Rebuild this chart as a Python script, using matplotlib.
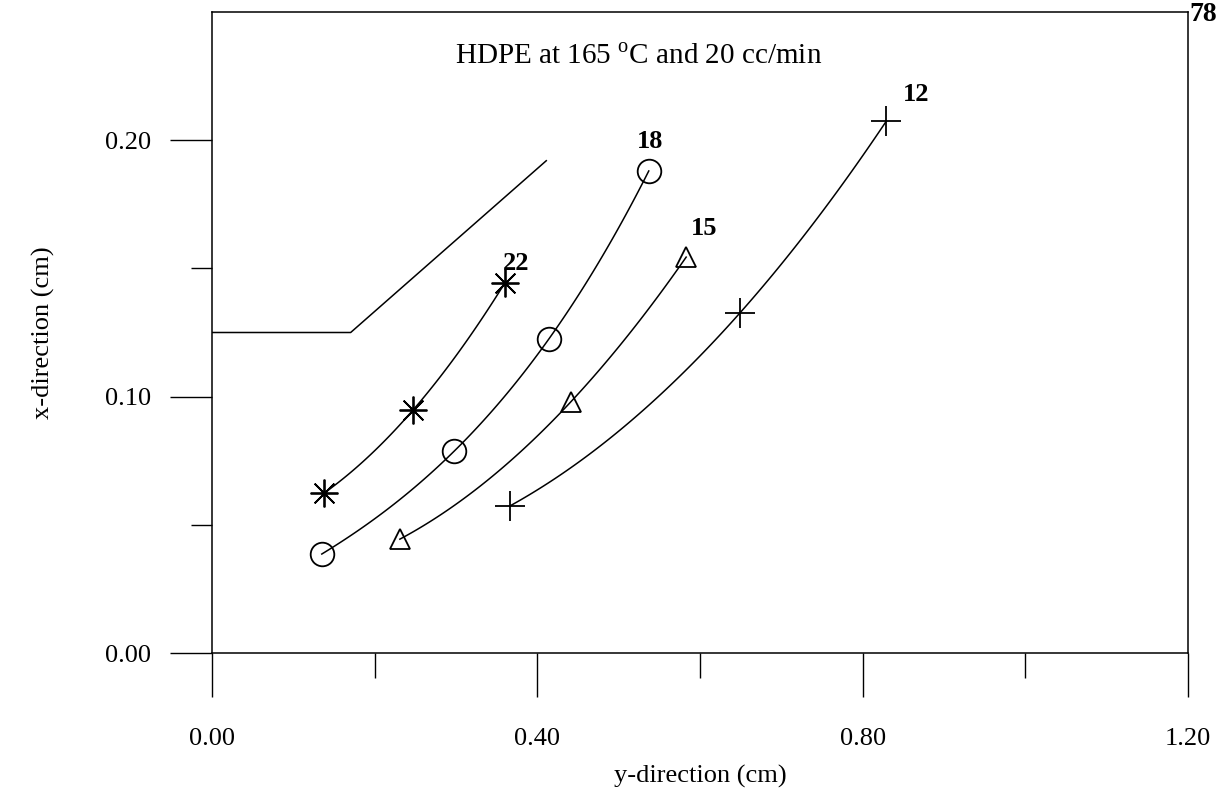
from matplotlib import pyplot as plt
import numpy as np

plt.rcParams['font.family'] = ['Liberation Serif', 'DejaVu Serif']
plt.rcParams['mathtext.fontset'] = 'custom'
plt.rcParams['mathtext.rm'] = 'Liberation Serif'

# data (y-direction, x-direction in cm)
y22 = [0.138, 0.247, 0.360]
x22 = [0.0624, 0.0947, 0.1443]
y18 = [0.135, 0.298, 0.414, 0.537]
x18 = [0.0386, 0.0788, 0.1224, 0.188]
y15 = [0.231, 0.441, 0.583]
x15 = [0.0444, 0.0979, 0.1544]
y12 = [0.366, 0.649, 0.829]
x12 = [0.0573, 0.1326, 0.2074]

# die wall outline
wall_y = [0.0, 0.1705, 0.411]
wall_x = [0.125, 0.125, 0.192]

labels = ['22', '18', '15', '12']


def smooth(xs, ys, n=100):
    # polynomial through the measured points, just for drawing the curve
    c = np.polyfit(xs, ys, len(xs) - 1)
    t = np.linspace(xs[0], xs[-1], n)
    return t, np.polyval(c, t)


fig = plt.figure(figsize=(12.18, 7.96), dpi=100)
ax = fig.add_axes([212/1218, 1-653/796, 976/1218, 641/796])

series = [(y22, x22, (8, 2, 0), 20), (y18, x18, 'o', 17),
          (y15, x15, '^', 14), (y12, x12, '+', 22)]
for xs, ys, m, ms in series:
    t, v = smooth(xs, ys)
    ax.plot(t, v, 'k-', lw=1.1)
    ax.plot(xs, ys, ls='none', marker=m, ms=ms, mfc='none', mec='k', mew=1.3)

ax.plot(wall_y, wall_x, 'k-', lw=1.1)

# curve labels next to the last point
offs = [(0.014, 0.003), (0.002, 0.007), (0.022, 0.0065), (0.037, 0.006)]
for (xs, ys, m, ms), lab, (dx, dy) in zip(series, labels, offs):
    ax.text(xs[-1] + dx, ys[-1] + dy, lab, fontsize=19, fontweight='bold',
            ha='center', va='bottom')

ax.text(0.525, 0.2325, r'HDPE at 165 $^{\mathrm{o}}$C and 20 cc/min', fontsize=21,
        ha='center', va='center')

ax.set_xlim(0, 1.2)
ax.set_ylim(0, 0.25)
ax.set_xticks([0.0, 0.4, 0.8, 1.2])
ax.set_xticks([0.2, 0.6, 1.0], minor=True)
ax.set_yticks([0.0, 0.1, 0.2])
ax.set_yticks([0.05, 0.15], minor=True)
ax.set_xticklabels(['0.00', '0.40', '0.80', '1.20'])
ax.set_yticklabels(['0.00', '0.10', '0.20'])
ax.tick_params(which='major', direction='out', length=32, width=1, labelsize=19)
ax.tick_params(axis='x', which='major', pad=22)
ax.tick_params(axis='y', which='major', length=30, pad=14)
ax.tick_params(axis='x', which='minor', direction='out', length=18, width=1)
ax.tick_params(axis='y', which='minor', direction='out', length=15, width=1)
for s in ax.spines.values():
    s.set_linewidth(1.1)

ax.set_xlabel('y-direction (cm)', fontsize=19, labelpad=11)
ax.set_ylabel('x-direction (cm)', fontsize=19, labelpad=36)

fig.text(1217/1218, 1-2/796, '78', fontsize=20, fontweight='bold', ha='right', va='top')

fig.savefig('out.png', dpi=100)
